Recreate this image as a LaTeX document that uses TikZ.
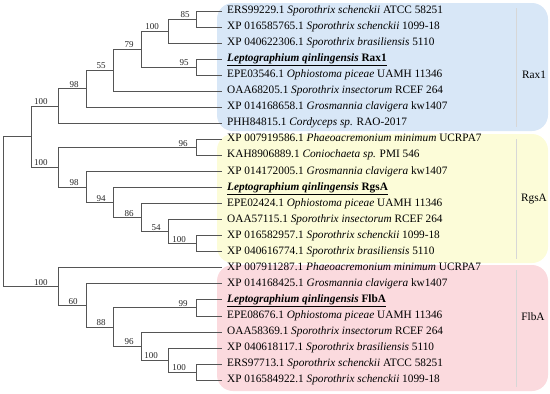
\documentclass[tikz,border=0pt]{standalone}
\usepackage{fontspec}
\setmainfont{Liberation Serif}
\definecolor{raxblue}{RGB}{216,231,247}
\definecolor{rgsyellow}{RGB}{252,252,216}
\definecolor{flbpink}{RGB}{251,218,222}
\definecolor{treegray}{RGB}{85,85,85}
\definecolor{sepgray}{RGB}{215,215,215}
\newcommand{\lepqin}[1]{\underline{\textbf{\textit{Leptographium qinlingensis}} \textbf{#1}}}
\begin{document}
\begin{tikzpicture}[x=1pt,y=-1pt,
  branch/.style={draw=treegray, line width=0.9pt},
  leaf/.style={anchor=west, inner xsep=5pt, inner ysep=0pt, text height=8pt, text depth=3pt, font=\fontsize{11.3}{13}\selectfont},
  boot/.style={anchor=south, inner sep=1pt, font=\fontsize{9}{10}\selectfont, text=black!85},
  clade/.style={font=\fontsize{11.3}{13}\selectfont},
  groupbox/.style={rounded corners=16pt},
  sepline/.style={draw=sepgray, line width=0.35pt}]
\useasboundingbox (0,0) rectangle (550,394);
% group boxes
\fill[groupbox, fill=raxblue] (217,3) rectangle (548,131);
\fill[groupbox, fill=rgsyellow] (217,134) rectangle (548,263);
\fill[groupbox, fill=flbpink] (217,265) rectangle (548,391);
\draw[sepline] (516,8) -- (516,127);
\draw[sepline] (516,139) -- (516,259);
\draw[sepline] (516,270) -- (516,387);
\node[clade] (cRax) at (534,75) {Rax1};
\node[clade] (cRgs) at (534,199) {RgsA};
\node[clade] (cFlb) at (533,317) {FlbA};
% leaves
\node[leaf] (n0) at (222,11.0) {ERS99229.1 \textit{Sporothrix schenckii} ATCC 58251};
\node[leaf] (n1) at (222,27.05) {XP 016585765.1 \textit{Sporothrix schenckii} 1099-18};
\node[leaf] (n2) at (222,43.1) {XP 040622306.1 \textit{Sporothrix brasiliensis} 5110};
\node[leaf] (n3) at (222,59.15) {\lepqin{Rax1}};
\node[leaf] (n4) at (222,75.2) {EPE03546.1 \textit{Ophiostoma piceae} UAMH 11346};
\node[leaf] (n5) at (222,91.25) {OAA68205.1 \textit{Sporothrix insectorum} RCEF 264};
\node[leaf] (n6) at (222,107.3) {XP 014168658.1 \textit{Grosmannia clavigera} kw1407};
\node[leaf] (n7) at (222,123.35) {PHH84815.1 \textit{Cordyceps sp.} RAO-2017};
\node[leaf] (n8) at (222,139.4) {XP 007919586.1 \textit{Phaeoacremonium minimum} UCRPA7};
\node[leaf] (n9) at (222,155.45) {KAH8906889.1 \textit{Coniochaeta sp.} PMI 546};
\node[leaf] (n10) at (222,171.5) {XP 014172005.1 \textit{Grosmannia clavigera} kw1407};
\node[leaf] (n11) at (222,187.55) {\lepqin{RgsA}};
\node[leaf] (n12) at (222,203.6) {EPE02424.1 \textit{Ophiostoma piceae} UAMH 11346};
\node[leaf] (n13) at (222,219.65) {OAA57115.1 \textit{Sporothrix insectorum} RCEF 264};
\node[leaf] (n14) at (222,235.7) {XP 016582957.1 \textit{Sporothrix schenckii} 1099-18};
\node[leaf] (n15) at (222,251.75) {XP 040616774.1 \textit{Sporothrix brasiliensis} 5110};
\node[leaf] (n16) at (222,267.8) {XP 007911287.1 \textit{Phaeoacremonium minimum} UCRPA7};
\node[leaf] (n17) at (222,283.85) {XP 014168425.1 \textit{Grosmannia clavigera} kw1407};
\node[leaf] (n18) at (222,299.9) {\lepqin{FlbA}};
\node[leaf] (n19) at (222,315.95) {EPE08676.1 \textit{Ophiostoma piceae} UAMH 11346};
\node[leaf] (n20) at (222,332.0) {OAA58369.1 \textit{Sporothrix insectorum} RCEF 264};
\node[leaf] (n21) at (222,348.05) {XP 040618117.1 \textit{Sporothrix brasiliensis} 5110};
\node[leaf] (n22) at (222,364.1) {ERS97713.1 \textit{Sporothrix schenckii} ATCC 58251};
\node[leaf] (n23) at (222,380.15) {XP 016584922.1 \textit{Sporothrix schenckii} 1099-18};
% internal nodes
\coordinate (F) at (196,19.0);
\coordinate (E) at (168,31.05);
\coordinate (G) at (196,67.2);
\coordinate (D) at (141,49.1);
\coordinate (C) at (113,70.2);
\coordinate (B) at (86,88.75);
\coordinate (A) at (58,106.05);
\coordinate (H) at (196,147.4);
\coordinate (K) at (196,243.7);
\coordinate (J) at (168,231.7);
\coordinate (I) at (141,217.65);
\coordinate (M) at (113,202.6);
\coordinate (N) at (86,187.05);
\coordinate (P) at (58,167.2);
\coordinate (R1) at (31,136.6);
\coordinate (Q) at (196,307.9);
\coordinate (S) at (196,372.1);
\coordinate (T) at (168,360.1);
\coordinate (U) at (141,346.05);
\coordinate (V) at (113,327.0);
\coordinate (W) at (86,305.4);
\coordinate (X) at (58,286.6);
\coordinate (root) at (3,211.6);
% branches
\path[branch]
  (F) |- (n0.west) (F) |- (n1.west)
  (E) |- (F) (E) |- (n2.west)
  (G) |- (n3.west) (G) |- (n4.west)
  (D) |- (E) (D) |- (G)
  (C) |- (D) (C) |- (n5.west)
  (B) |- (C) (B) |- (n6.west)
  (A) |- (B) (A) |- (n7.west)
  (H) |- (n8.west) (H) |- (n9.west)
  (K) |- (n14.west) (K) |- (n15.west)
  (J) |- (n13.west) (J) |- (K)
  (I) |- (n12.west) (I) |- (J)
  (M) |- (n11.west) (M) |- (I)
  (N) |- (n10.west) (N) |- (M)
  (P) |- (H) (P) |- (N)
  (R1) |- (A) (R1) |- (P)
  (Q) |- (n18.west) (Q) |- (n19.west)
  (S) |- (n22.west) (S) |- (n23.west)
  (T) |- (n21.west) (T) |- (S)
  (U) |- (n20.west) (U) |- (T)
  (V) |- (Q) (V) |- (U)
  (W) |- (n17.west) (W) |- (V)
  (X) |- (n16.west) (X) |- (W)
  (root) |- (R1) (root) |- (X);
% bootstrap values
\node[boot, xshift=-11pt] (bF) at (F) {85};
\node[boot, xshift=-16pt] (bE) at (E) {100};
\node[boot, xshift=-12pt] (bG) at (G) {95};
\node[boot, xshift=-12pt] (bD) at (D) {79};
\node[boot, xshift=-12pt] (bC) at (C) {55};
\node[boot, xshift=-12pt] (bB) at (B) {98};
\node[boot, xshift=-17pt] (bA) at (A) {100};
\node[boot, xshift=-13pt] (bH) at (H) {96};
\node[boot, xshift=-17pt] (bK) at (K) {100};
\node[boot, xshift=-12pt] (bJ) at (J) {54};
\node[boot, xshift=-12pt] (bI) at (I) {86};
\node[boot, xshift=-12pt] (bM) at (M) {94};
\node[boot, xshift=-12pt] (bN) at (N) {98};
\node[boot, xshift=-17pt] (bP) at (P) {100};
\node[boot, xshift=-13pt] (bQ) at (Q) {99};
\node[boot, xshift=-17pt] (bS) at (S) {100};
\node[boot, xshift=-17pt] (bT) at (T) {100};
\node[boot, xshift=-12pt] (bU) at (U) {96};
\node[boot, xshift=-12pt] (bV) at (V) {88};
\node[boot, xshift=-13pt] (bW) at (W) {60};
\node[boot, xshift=-17pt] (bX) at (X) {100};
\end{tikzpicture}
\end{document}
